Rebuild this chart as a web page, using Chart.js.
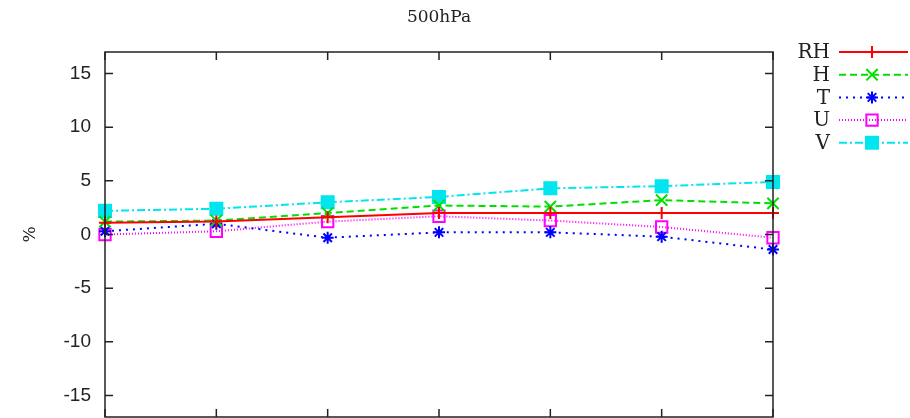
<!DOCTYPE html>
<html>
<head>
<meta charset="utf-8">
<script src="https://cdn.jsdelivr.net/npm/chart.js@4/dist/chart.umd.min.js"></script>
<style>
  html, body { margin: 0; padding: 0; background: #fff; }
  #wrap { width: 910px; height: 418px; }
</style>
</head>
<body>
<div id="wrap"><canvas id="chart" width="910" height="418"></canvas></div>
<script>
// 500hPa chart data

const steps = ["1", "2", "3", "4", "5", "6", "7"];
const yTicks = [-15, -10, -5, 0, 5, 10, 15];

const rhVals = [1.1, 1.2, 1.6, 2.0, 2.0, 2.0, 2.0];
const hVals  = [1.2, 1.3, 2.0, 2.7, 2.6, 3.2, 2.9];
const tVals  = [0.3, 1.0, -0.3, 0.2, 0.2, -0.2, -1.4];
const uVals  = [0.0, 0.3, 1.2, 1.7, 1.3, 0.7, -0.3];
const vVals  = [2.2, 2.4, 3.0, 3.5, 4.3, 4.5, 4.9];

const serif = "'DejaVu Serif', 'Liberation Serif', serif";
const sans = "'Liberation Sans', 'DejaVu Sans', sans-serif";

function series(label, data, color, dash, style, radius, fill) {
    return {
        label: label,
        data: data,
        borderColor: color,
        borderWidth: 2,
        borderDash: dash,
        pointStyle: style,
        pointRadius: radius,
        pointBorderWidth: 2,
        pointBorderColor: color,
        pointBackgroundColor: fill,
        tension: 0,
        clip: false
    };
}

const datasets = [
    series("RH", rhVals, "#ff0000", [], "cross", 6, "#ff0000"),
    series("H", hVals, "#00e000", [7, 4], "crossRot", 8, "#00e000"),
    series("T", tVals, "#0000ff", [2, 5], "star", 6, "#0000ff"),
    series("U", uVals, "#ff00ff", [1, 2], "rect", 8, "rgba(255,255,255,0)"),
    series("V", vVals, "#00e5ee", [8, 3, 2, 3], "rect", 8.5, "#00e5ee")
];

// box, inward ticks, title, y label and legend
const framePlugin = {
    id: "frame",
    afterDraw(chart) {
        const ctx = chart.ctx;
        const a = chart.chartArea;
        const xs = chart.scales.x;
        const ys = chart.scales.y;

        ctx.save();
        ctx.strokeStyle = "#222";
        ctx.lineWidth = 1.5;
        ctx.setLineDash([]);
        ctx.strokeRect(a.left, a.top, a.right - a.left, a.bottom - a.top);

        ctx.beginPath();
        yTicks.forEach(v => {
            const y = ys.getPixelForValue(v);
            ctx.moveTo(a.left, y);
            ctx.lineTo(a.left + 8, y);
            ctx.moveTo(a.right, y);
            ctx.lineTo(a.right - 8, y);
        });
        steps.forEach((s, i) => {
            const x = xs.getPixelForValue(i);
            ctx.moveTo(x, a.top);
            ctx.lineTo(x, a.top + 8);
            ctx.moveTo(x, a.bottom);
            ctx.lineTo(x, a.bottom - 8);
        });
        ctx.stroke();

        // title
        ctx.fillStyle = "#222";
        ctx.font = "17px " + serif;
        ctx.textAlign = "center";
        ctx.textBaseline = "middle";
        ctx.fillText("500hPa", (a.left + a.right) / 2, 18);

        // y label
        ctx.save();
        ctx.translate(31, ys.getPixelForValue(0));
        ctx.rotate(-Math.PI / 2);
        ctx.font = "17px " + serif;
        ctx.fillText("%", 0, 0);
        ctx.restore();

        // legend
        chart.data.datasets.forEach((ds, i) => {
            const y = 52 + i * 22.7;
            ctx.font = "20px " + serif;
            ctx.textAlign = "right";
            ctx.fillStyle = "#222";
            ctx.fillText(ds.label, 830, y + 1);

            ctx.strokeStyle = ds.borderColor;
            ctx.lineWidth = 2;
            ctx.setLineDash(ds.borderDash);
            ctx.beginPath();
            ctx.moveTo(839, y);
            ctx.lineTo(908, y);
            ctx.stroke();
            ctx.setLineDash([]);

            if (Chart.helpers && Chart.helpers.drawPoint) {
                ctx.fillStyle = ds.pointBackgroundColor;
                ctx.strokeStyle = ds.pointBorderColor;
                ctx.lineWidth = ds.pointBorderWidth;
                Chart.helpers.drawPoint(ctx, {
                    pointStyle: ds.pointStyle,
                    radius: ds.pointRadius,
                    rotation: 0,
                    borderWidth: ds.pointBorderWidth
                }, 872, y);
            }
        });

        ctx.restore();
    }
};

const ctx = document.getElementById("chart");

new Chart(ctx, {
    type: "line",
    data: {
        labels: steps,
        datasets: datasets
    },
    options: {
        responsive: false,
        animation: false,
        layout: {
            autoPadding: false,
            padding: { left: 0, top: 52, right: 137, bottom: 1 }
        },
        plugins: {
            legend: { display: false },
            title: { display: false },
            tooltip: { enabled: false }
        },
        scales: {
            x: {
                type: "category",
                offset: false,
                grid: { display: false },
                border: { display: false },
                ticks: { display: false },
                afterFit(s) { s.height = 0; }
            },
            y: {
                min: -17,
                max: 17,
                grid: { display: false, drawTicks: false },
                border: { display: false },
                afterBuildTicks(s) { s.ticks = yTicks.map(v => ({ value: v })); },
                afterFit(s) {
                    s.width = 105;
                    s.paddingTop = 0;
                    s.paddingBottom = 0;
                },
                ticks: {
                    color: "#222",
                    padding: 14,
                    font: { family: sans, size: 19 }
                }
            }
        }
    },
    plugins: [framePlugin]
});
</script>
</body>
</html>
